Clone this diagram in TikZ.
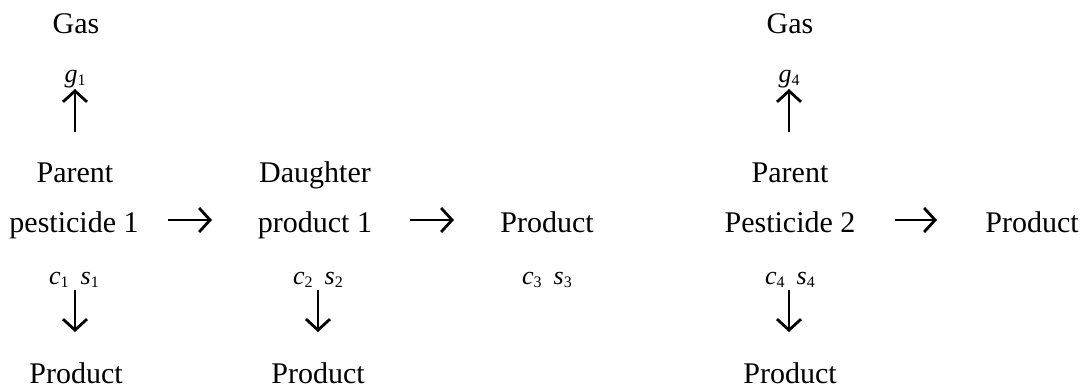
\documentclass[tikz,border=0pt]{standalone}
\usepackage{fontspec}
\setmainfont{Liberation Serif}
\usetikzlibrary{arrows.meta}
\newcommand{\mysub}[1]{\raisebox{-3pt}{\fontsize{16}{16}\selectfont #1}}
\newcommand{\csl}[1]{{\fontsize{26}{26}\selectfont\itshape c}\mysub{#1}\hspace{12pt}{\fontsize{26}{26}\selectfont\itshape s}\mysub{#1}}
\newcommand{\gl}[1]{{\fontsize{26}{26}\selectfont\itshape g}\mysub{#1}}
\begin{document}
\begin{tikzpicture}[x=1pt,y=-1pt,
  lbl/.style={anchor=base,inner sep=0pt,font=\fontsize{30}{36}\selectfont},
  sml/.style={anchor=base,inner sep=0pt},
  arr/.style={line width=2.8pt,-{Straight Barb[length=11pt,width=24pt,line width=2.8pt]}}]
\useasboundingbox (0,0) rectangle (1086,391);
% left group
\node[lbl] (gas1) at (76,33) {Gas};
\node[sml] (g1) at (75,82) {\gl{1}};
\node[lbl] (par1) at (75,182) {Parent};
\node[lbl] (pest1) at (74,232) {pesticide 1};
\node[sml] (cs1) at (74,284) {\csl{1}};
\node[lbl] (prod1) at (76,383) {Product};
% daughter
\node[lbl] (dau) at (315,182) {Daughter};
\node[lbl] (dprod) at (315,232) {product 1};
\node[sml] (cs2) at (318,284) {\csl{2}};
\node[lbl] (prod2) at (318,383) {Product};
% middle product
\node[lbl] (prod3) at (547,232) {Product};
\node[sml] (cs3) at (547,284) {\csl{3}};
% right group
\node[lbl] (gas4) at (790,33) {Gas};
\node[sml] (g4) at (789,82) {\gl{4}};
\node[lbl] (par2) at (790,182) {Parent};
\node[lbl] (pest2) at (790,232) {Pesticide 2};
\node[sml] (cs4) at (790,284) {\csl{4}};
\node[lbl] (prod4) at (790,383) {Product};
\node[lbl] (prod5) at (1032,232) {Product};
% arrow end points
\coordinate (u1a) at (75,132); \coordinate (u1b) at (75,89);
\coordinate (r1a) at (168,220); \coordinate (r1b) at (212,220);
\coordinate (r2a) at (410,220); \coordinate (r2b) at (454,220);
\coordinate (d1a) at (75,290); \coordinate (d1b) at (75,332);
\coordinate (d2a) at (318,290); \coordinate (d2b) at (318,332);
\coordinate (u4a) at (789,132); \coordinate (u4b) at (789,89);
\coordinate (r3a) at (895,220); \coordinate (r3b) at (937,220);
\coordinate (d4a) at (789,290); \coordinate (d4b) at (789,332);
\draw[arr] (u1a) -- (u1b);
\draw[arr] (r1a) -- (r1b);
\draw[arr] (r2a) -- (r2b);
\draw[arr] (d1a) -- (d1b);
\draw[arr] (d2a) -- (d2b);
\draw[arr] (u4a) -- (u4b);
\draw[arr] (r3a) -- (r3b);
\draw[arr] (d4a) -- (d4b);
\end{tikzpicture}
\end{document}
